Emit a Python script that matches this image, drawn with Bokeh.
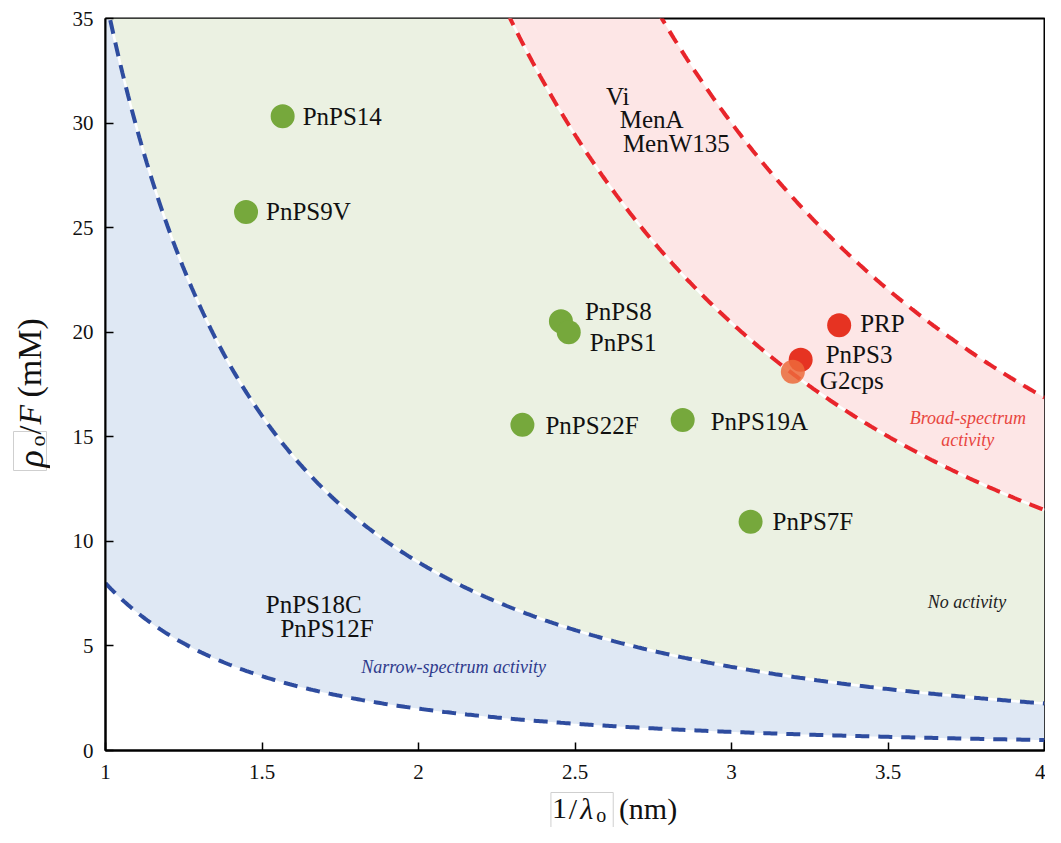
import numpy as np
from bokeh.plotting import figure
from bokeh.layouts import row, column
from bokeh.models import Range1d, FixedTicker, Label, ColumnDataSource
from bokeh.core.properties import value
from bokeh.embed import file_html
from bokeh.resources import INLINE

# ---------------- data ----------------
# boundary curves  y = c / x^2  (coefficients)
blue_lower_c = 8.0
blue_upper_c = 36.0
red_lower_c = 184.0
red_upper_c = 270.0

green_names = ["PnPS14", "PnPS9V", "PnPS8", "PnPS1", "PnPS22F", "PnPS19A", "PnPS7F"]
green_x = [1.566, 1.449, 2.455, 2.480, 2.332, 2.844, 3.061]
green_y = [30.33, 25.75, 20.52, 20.00, 15.57, 15.80, 10.94]

red_names = ["PRP", "PnPS3"]
red_x = [3.344, 3.221]
red_y = [20.33, 18.68]

orange_names = ["G2cps"]
orange_x = [3.196]
orange_y = [18.11]

extra_names = ["Vi", "MenA", "MenW135", "PnPS18C", "PnPS12F"]
extra_x = [2.599, 2.643, 2.653, 1.512, 1.559]
extra_y = [31.27, 30.19, 29.01, 6.98, 5.85]

x_ticks = [1, 1.5, 2, 2.5, 3, 3.5, 4]
x_tick_labels = ["1", "1.5", "2", "2.5", "3", "3.5", "4"]
y_ticks = [0, 5, 10, 15, 20, 25, 30, 35]
y_tick_labels = ["0", "5", "10", "15", "20", "25", "30", "35"]

# label offsets (pixels)
green_dx = [20, 20, 24, 21, 23, 28, 22]
green_dy = [0, 0, -10, 10, 1, 1, 0]
red_dx = [21, 25]
red_dy = [-2, -5]
orange_dx = [27]
orange_dy = [9]

FONT = "Liberation Serif"
W, H = 1045, 827
YW = 50          # width of the strip holding the y title
MH = 789         # height of the main figure
XH = H - MH      # height of the strip holding the x title
FTOP, FBOT = 18, 750

# ---------------- main figure ----------------
p = figure(width=W - YW, height=MH, output_backend="svg", toolbar_location=None,
           x_range=Range1d(1, 4), y_range=Range1d(0, 35),
           min_border_left=105 - YW, min_border_right=1, min_border_top=FTOP,
           min_border_bottom=MH - FBOT)
p.grid.visible = False
p.outline_line_color = "black"
p.outline_line_width = 2
p.background_fill_color = "white"

for ax in (p.xaxis[0], p.yaxis[0]):
    ax.axis_line_width = 2
    ax.axis_line_color = "black"
    ax.major_tick_in = 8
    ax.major_tick_out = 0
    ax.major_tick_line_width = 1.5
    ax.minor_tick_line_color = None
    ax.major_label_text_font = FONT
    ax.major_label_text_font_size = "21px"
    ax.major_label_text_color = "#111111"

p.xaxis[0].ticker = FixedTicker(ticks=x_ticks)
p.xaxis[0].major_label_overrides = dict(zip(x_ticks, x_tick_labels))
p.xaxis[0].major_label_standoff = 14
p.yaxis[0].ticker = FixedTicker(ticks=y_ticks)
p.yaxis[0].major_label_overrides = dict(zip(y_ticks, y_tick_labels))
p.yaxis[0].major_label_standoff = 12

xs = np.linspace(1.0, 4.0, 500)
bl = blue_lower_c / xs**2
bu = blue_upper_c / xs**2
rl = red_lower_c / xs**2
ru = red_upper_c / xs**2

p.varea(x=xs, y1=bl, y2=bu, fill_color="#dfe8f4")
p.varea(x=xs, y1=bu, y2=np.minimum(rl, 35), fill_color="#ebf1e2")
p.varea(x=xs, y1=np.minimum(rl, 35), y2=np.minimum(ru, 35), fill_color="#fde6e6")

p.line(xs, bu, line_color="white", line_width=2.5)
p.line(xs, rl, line_color="white", line_width=2.5)

BLUE = "#2e4c9f"
RED = "#e8252b"
p.line(xs, bl, line_color=BLUE, line_width=4, line_dash="14 9")
p.line(xs, bu, line_color=BLUE, line_width=4, line_dash="14 9")
p.line(xs, rl, line_color=RED, line_width=4, line_dash="14 9")
p.line(xs, ru, line_color=RED, line_width=4, line_dash="14 9")

# markers
p.scatter(green_x, green_y, size=24, fill_color="#76a83c", line_color=None)
p.scatter(red_x, red_y, size=24, fill_color="#e63322", line_color=None)
p.scatter(orange_x, orange_y, size=24, fill_color="#ec6a3b", line_color=None, fill_alpha=0.85)

def names(xv, yv, nm, dx, dy):
    src = ColumnDataSource(dict(x=xv, y=yv, t=nm, dx=dx, dy=dy))
    p.text(x="x", y="y", text="t", x_offset="dx", y_offset="dy", source=src,
           text_font=value(FONT), text_font_size="25px", text_color="#111111",
           text_align="left", text_baseline="middle")

names(green_x, green_y, green_names, green_dx, green_dy)
names(red_x, red_y, red_names, red_dx, red_dy)
names(orange_x, orange_y, orange_names, orange_dx, orange_dy)
names(extra_x, extra_y, extra_names, [0] * 5, [0] * 5)

def note(x, y, t, color):
    p.add_layout(Label(x=x, y=y, text=t, text_font=FONT, text_font_size="18px",
                       text_font_style="italic", text_color=color,
                       text_align="center", text_baseline="middle"))

note(3.755, 15.90, "Broad-spectrum", "#e8453e")
note(3.755, 14.86, "activity", "#e8453e")
note(3.752, 7.08, "No activity", "#222222")
note(2.112, 4.01, "Narrow-spectrum activity", "#2e3a8c")

# ---------------- title strips (coordinates = pixels of the whole page) ----------------
def strip(w, h, x0, y0):
    f = figure(width=w, height=h, output_backend="svg", toolbar_location=None,
               x_range=Range1d(x0, x0 + w), y_range=Range1d(y0 + h, y0),
               x_axis_type=None, y_axis_type=None,
               min_border=0, min_border_left=0, min_border_right=0,
               min_border_top=0, min_border_bottom=0)
    f.grid.visible = False
    f.outline_line_color = None
    f.background_fill_color = "white"
    f.border_fill_color = "white"
    return f

ys = strip(YW, H, 0, 0)
xsf = strip(W - YW, XH, YW, MH)

def piece(f, px, py, t, size, italic=False, angle=0.0):
    f.add_layout(Label(x=px, y=py, text=t, text_font=FONT, text_font_size=size,
                       text_font_style="italic" if italic else "normal",
                       text_color="#111111", angle=angle,
                       text_align="left", text_baseline="middle"))

A = np.pi / 2
ys.quad(left=[13], right=[46], top=[431], bottom=[470], fill_color=None,
        line_color="#cfcfcf", line_width=1)
piece(ys, 30, 467, "ρ", "36px", True, A)
piece(ys, 37, 446, "o", "22px", False, A)
piece(ys, 29, 434, "/", "32px", False, A)
piece(ys, 29, 424, "F", "32px", True, A)
piece(ys, 29, 397, "(mM)", "34px", False, A)

xsf.quad(left=[522], right=[588], top=[792], bottom=[832], fill_color=None,
         line_color="#cfcfcf", line_width=1)
piece(xsf, 523, 808, "1", "30px")
piece(xsf, 541, 808, "/", "30px")
piece(xsf, 553, 808, "λ", "30px", True)
piece(xsf, 570, 814, "o", "20px")
piece(xsf, 594, 808, "(nm)", "30px")

layout = row(ys, column(p, xsf, spacing=0), spacing=0)
open("out.html", "w").write(file_html(layout, INLINE))
